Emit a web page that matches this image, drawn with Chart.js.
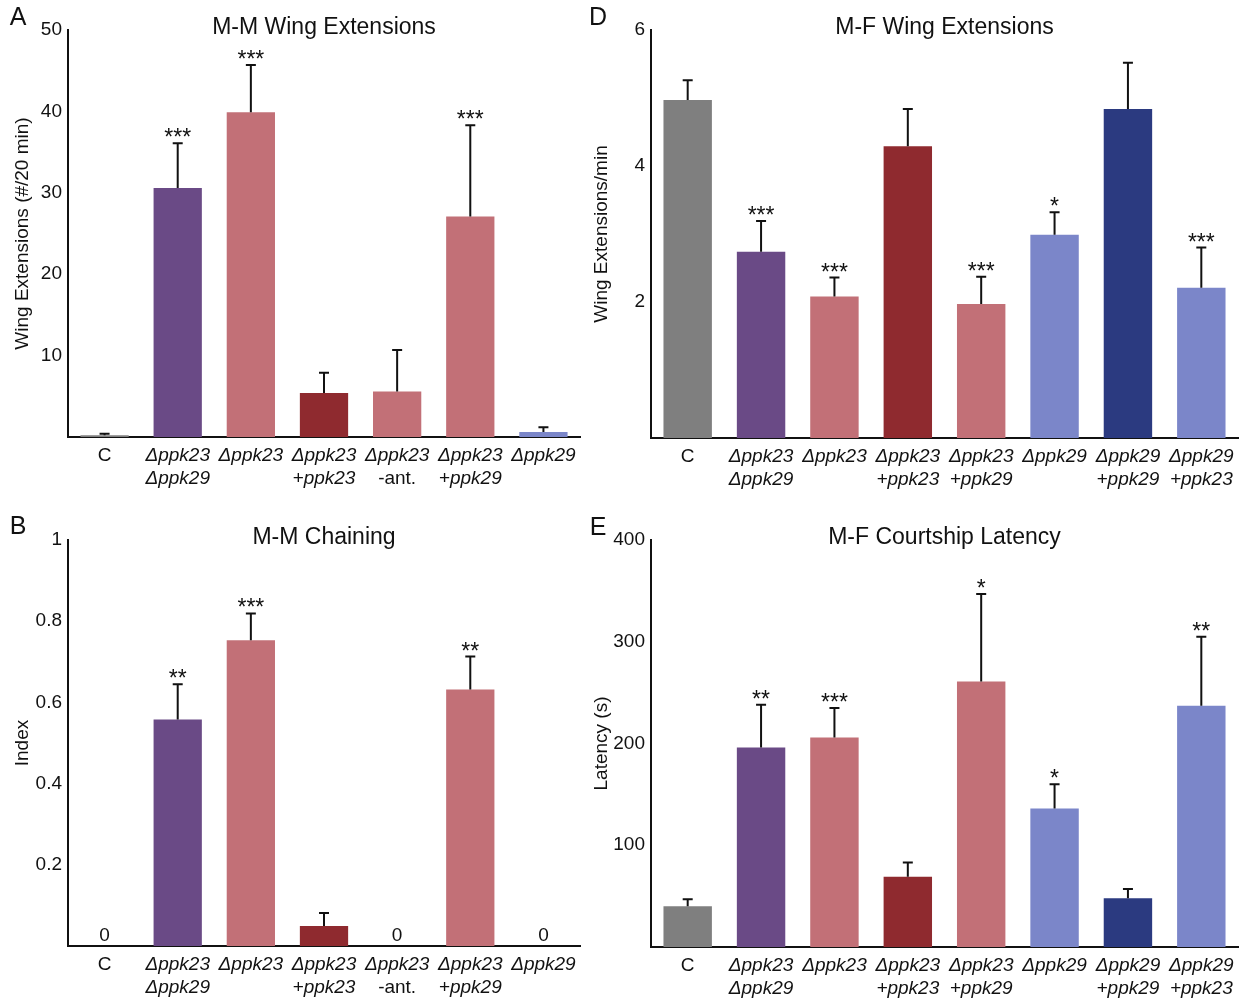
<!DOCTYPE html>
<html>
<head>
<meta charset="utf-8">
<script src="https://cdn.jsdelivr.net/npm/chart.js@4.4.1/dist/chart.umd.min.js"></script>
<style>
  body { margin: 0; background: #fff; }
  #wrap { position: relative; width: 1247px; height: 1003px; }
  canvas { position: absolute; }
</style>
</head>
<body>
<div id="wrap">
  <canvas id="chartA" width="590" height="505" style="left:0;top:0"></canvas>
  <canvas id="chartD" width="657" height="505" style="left:590px;top:0"></canvas>
  <canvas id="chartB" width="590" height="498" style="left:0;top:505px"></canvas>
  <canvas id="chartE" width="657" height="498" style="left:590px;top:505px"></canvas>
</div>
<script>
// categories (each entry = lines of the tick label)
const catsMM = [['C'], ['Δppk23', 'Δppk29'], ['Δppk23'], ['Δppk23', '+ppk23'], ['Δppk23', '-ant.'], ['Δppk23', '+ppk29'], ['Δppk29']];
const catsMF = [['C'], ['Δppk23', 'Δppk29'], ['Δppk23'], ['Δppk23', '+ppk23'], ['Δppk23', '+ppk29'], ['Δppk29'], ['Δppk29', '+ppk29'], ['Δppk29', '+ppk23']];

// A: M-M wing extensions (#/20 min)
const mmWingMean = [0.2, 30.6, 39.9, 5.4, 5.6, 27.1, 0.6];
const mmWingSem  = [0.2, 5.5, 5.8, 2.5, 5.1, 11.2, 0.6];
const mmWingSig  = ['', '***', '***', '', '', '***', ''];

// B: M-M chaining index
const mmChainMean = [0, 0.558, 0.753, 0.049, 0, 0.632, 0];
const mmChainSem  = [0, 0.087, 0.066, 0.032, 0, 0.081, 0];
const mmChainSig  = ['', '**', '***', '', '', '**', ''];

// D: M-F wing extensions/min
const mfWingMean = [4.97, 2.74, 2.08, 4.29, 1.97, 2.99, 4.84, 2.21];
const mfWingSem  = [0.29, 0.45, 0.28, 0.55, 0.40, 0.33, 0.68, 0.59];
const mfWingSig  = ['', '***', '***', '', '***', '*', '', '***'];

// E: M-F courtship latency (s)
const mfLatMean = [40, 196, 206, 69, 261, 136, 48, 237];
const mfLatSem  = [7, 42, 29, 14, 86, 24, 9, 68];
const mfLatSig  = ['', '**', '***', '', '*', '*', '', '**'];

const grey = '#7f7f7f', purple = '#6a4a86', pink = '#c27077', darkRed = '#8f2a2f', lightBlue = '#7b86c9', navy = '#2b3a80';
const mmColors = [grey, purple, pink, darkRed, pink, pink, lightBlue];
const mfColors = [grey, purple, pink, darkRed, pink, lightBlue, navy, lightBlue];

const FONT = "'Liberation Sans', Arial, sans-serif";
const upright = ['C', '-ant.'];

const extras = {
  id: 'extras',
  afterDatasetsDraw(chart, args, o) {
    const { ctx } = chart;
    const x = chart.scales.x, y = chart.scales.y;
    ctx.save();
    ctx.strokeStyle = '#111';
    ctx.fillStyle = '#111';
    ctx.lineWidth = 2;
    ctx.textAlign = 'center';
    o.means.forEach((m, i) => {
      const cx = x.getPixelForValue(i);
      let top = y.getPixelForValue(m);
      if (o.sems[i] > 0) {
        const y0 = y.getPixelForValue(m);
        const y1 = y.getPixelForValue(m + o.sems[i]);
        ctx.beginPath();
        ctx.moveTo(cx, y0);
        ctx.lineTo(cx, y1);
        ctx.moveTo(cx - 5, y1);
        ctx.lineTo(cx + 5, y1);
        ctx.stroke();
        top = y1;
      }
      if (o.sig[i]) {
        ctx.font = '23px ' + FONT;
        ctx.textBaseline = 'alphabetic';
        ctx.fillText(o.sig[i], cx, top + 2);
      }
      if (o.showZero && m === 0) {
        ctx.font = '19px ' + FONT;
        ctx.textBaseline = 'alphabetic';
        ctx.fillText('0', cx, y.getPixelForValue(0) - 5);
      }
    });
    ctx.restore();
  },
  afterDraw(chart, args, o) {
    const { ctx, chartArea } = chart;
    const x = chart.scales.x;
    ctx.save();
    ctx.fillStyle = '#111';
    ctx.textBaseline = 'middle';
    // category labels, italic gene names
    o.cats.forEach((lines, i) => {
      const cx = x.getPixelForValue(i);
      lines.forEach((line, k) => {
        ctx.font = (upright.includes(line) ? '' : 'italic ') + '19px ' + FONT;
        ctx.textAlign = 'center';
        ctx.fillText(line, cx, chartArea.bottom + 19 + k * 23);
      });
    });
    // title
    ctx.font = '23px ' + FONT;
    ctx.textAlign = 'center';
    ctx.fillText(o.title, (chartArea.left + chartArea.right) / 2, chartArea.top - 2);
    // panel letter
    ctx.font = '25px ' + FONT;
    ctx.fillText(o.letter, o.letterX, o.letterY);
    ctx.restore();
  }
};

function makeChart(id, cats, means, sems, sig, colors, o) {
  const ctx = document.getElementById(id).getContext('2d');
  return new Chart(ctx, {
    type: 'bar',
    data: {
      labels: cats.map(c => c.join(' ')),
      datasets: [{
        data: means,
        backgroundColor: colors,
        borderWidth: 0,
        barPercentage: 0.66,
        categoryPercentage: 1
      }]
    },
    options: {
      responsive: false,
      animation: false,
      layout: { padding: { top: o.top, right: o.right, left: 0, bottom: 0 } },
      plugins: {
        legend: { display: false },
        tooltip: { enabled: false },
        extras: { means, sems, sig, cats, title: o.title, letter: o.letter, letterX: o.letterX, letterY: o.letterY, showZero: o.showZero }
      },
      scales: {
        x: {
          ticks: { display: false },
          grid: { display: false, drawTicks: false },
          border: { display: true, color: '#111', width: 2 },
          afterFit: s => { s.height = o.axisH; }
        },
        y: {
          min: 0,
          max: o.max,
          ticks: {
            stepSize: o.step,
            padding: 6,
            color: '#111',
            font: { size: 19, family: FONT },
            callback: v => v === 0 ? '' : String(+v.toFixed(2))
          },
          grid: { display: false, drawTicks: false },
          border: { display: true, color: '#111', width: 2 },
          title: {
            display: true,
            text: o.yTitle,
            color: '#111',
            font: { size: 19, family: FONT },
            padding: { top: o.titlePad, bottom: 0 }
          },
          afterFit: s => { s.width = o.axisW; }
        }
      }
    },
    plugins: [extras]
  });
}

makeChart('chartA', catsMM, mmWingMean, mmWingSem, mmWingSig, mmColors, {
  title: 'M-M Wing Extensions', yTitle: 'Wing Extensions (#/20 min)', letter: 'A', letterX: 18, letterY: 18,
  max: 50, step: 10, top: 30, right: 10, axisW: 68, axisH: 68, titlePad: 11
});
makeChart('chartD', catsMF, mfWingMean, mfWingSem, mfWingSig, mfColors, {
  title: 'M-F Wing Extensions', yTitle: 'Wing Extensions/min', letter: 'D', letterX: 8, letterY: 18,
  max: 6, step: 2, top: 30, right: 9, axisW: 61, axisH: 67, titlePad: 0
});
makeChart('chartB', catsMM, mmChainMean, mmChainSem, mmChainSig, mmColors, {
  title: 'M-M Chaining', yTitle: 'Index', letter: 'B', letterX: 18, letterY: 22,
  max: 1, step: 0.2, top: 35, right: 10, axisW: 68, axisH: 57, titlePad: 11, showZero: true
});
makeChart('chartE', catsMF, mfLatMean, mfLatSem, mfLatSig, mfColors, {
  title: 'M-F Courtship Latency', yTitle: 'Latency (s)', letter: 'E', letterX: 8, letterY: 23,
  max: 400, step: 100, top: 35, right: 9, axisW: 61, axisH: 56, titlePad: 0
});
</script>
</body>
</html>
